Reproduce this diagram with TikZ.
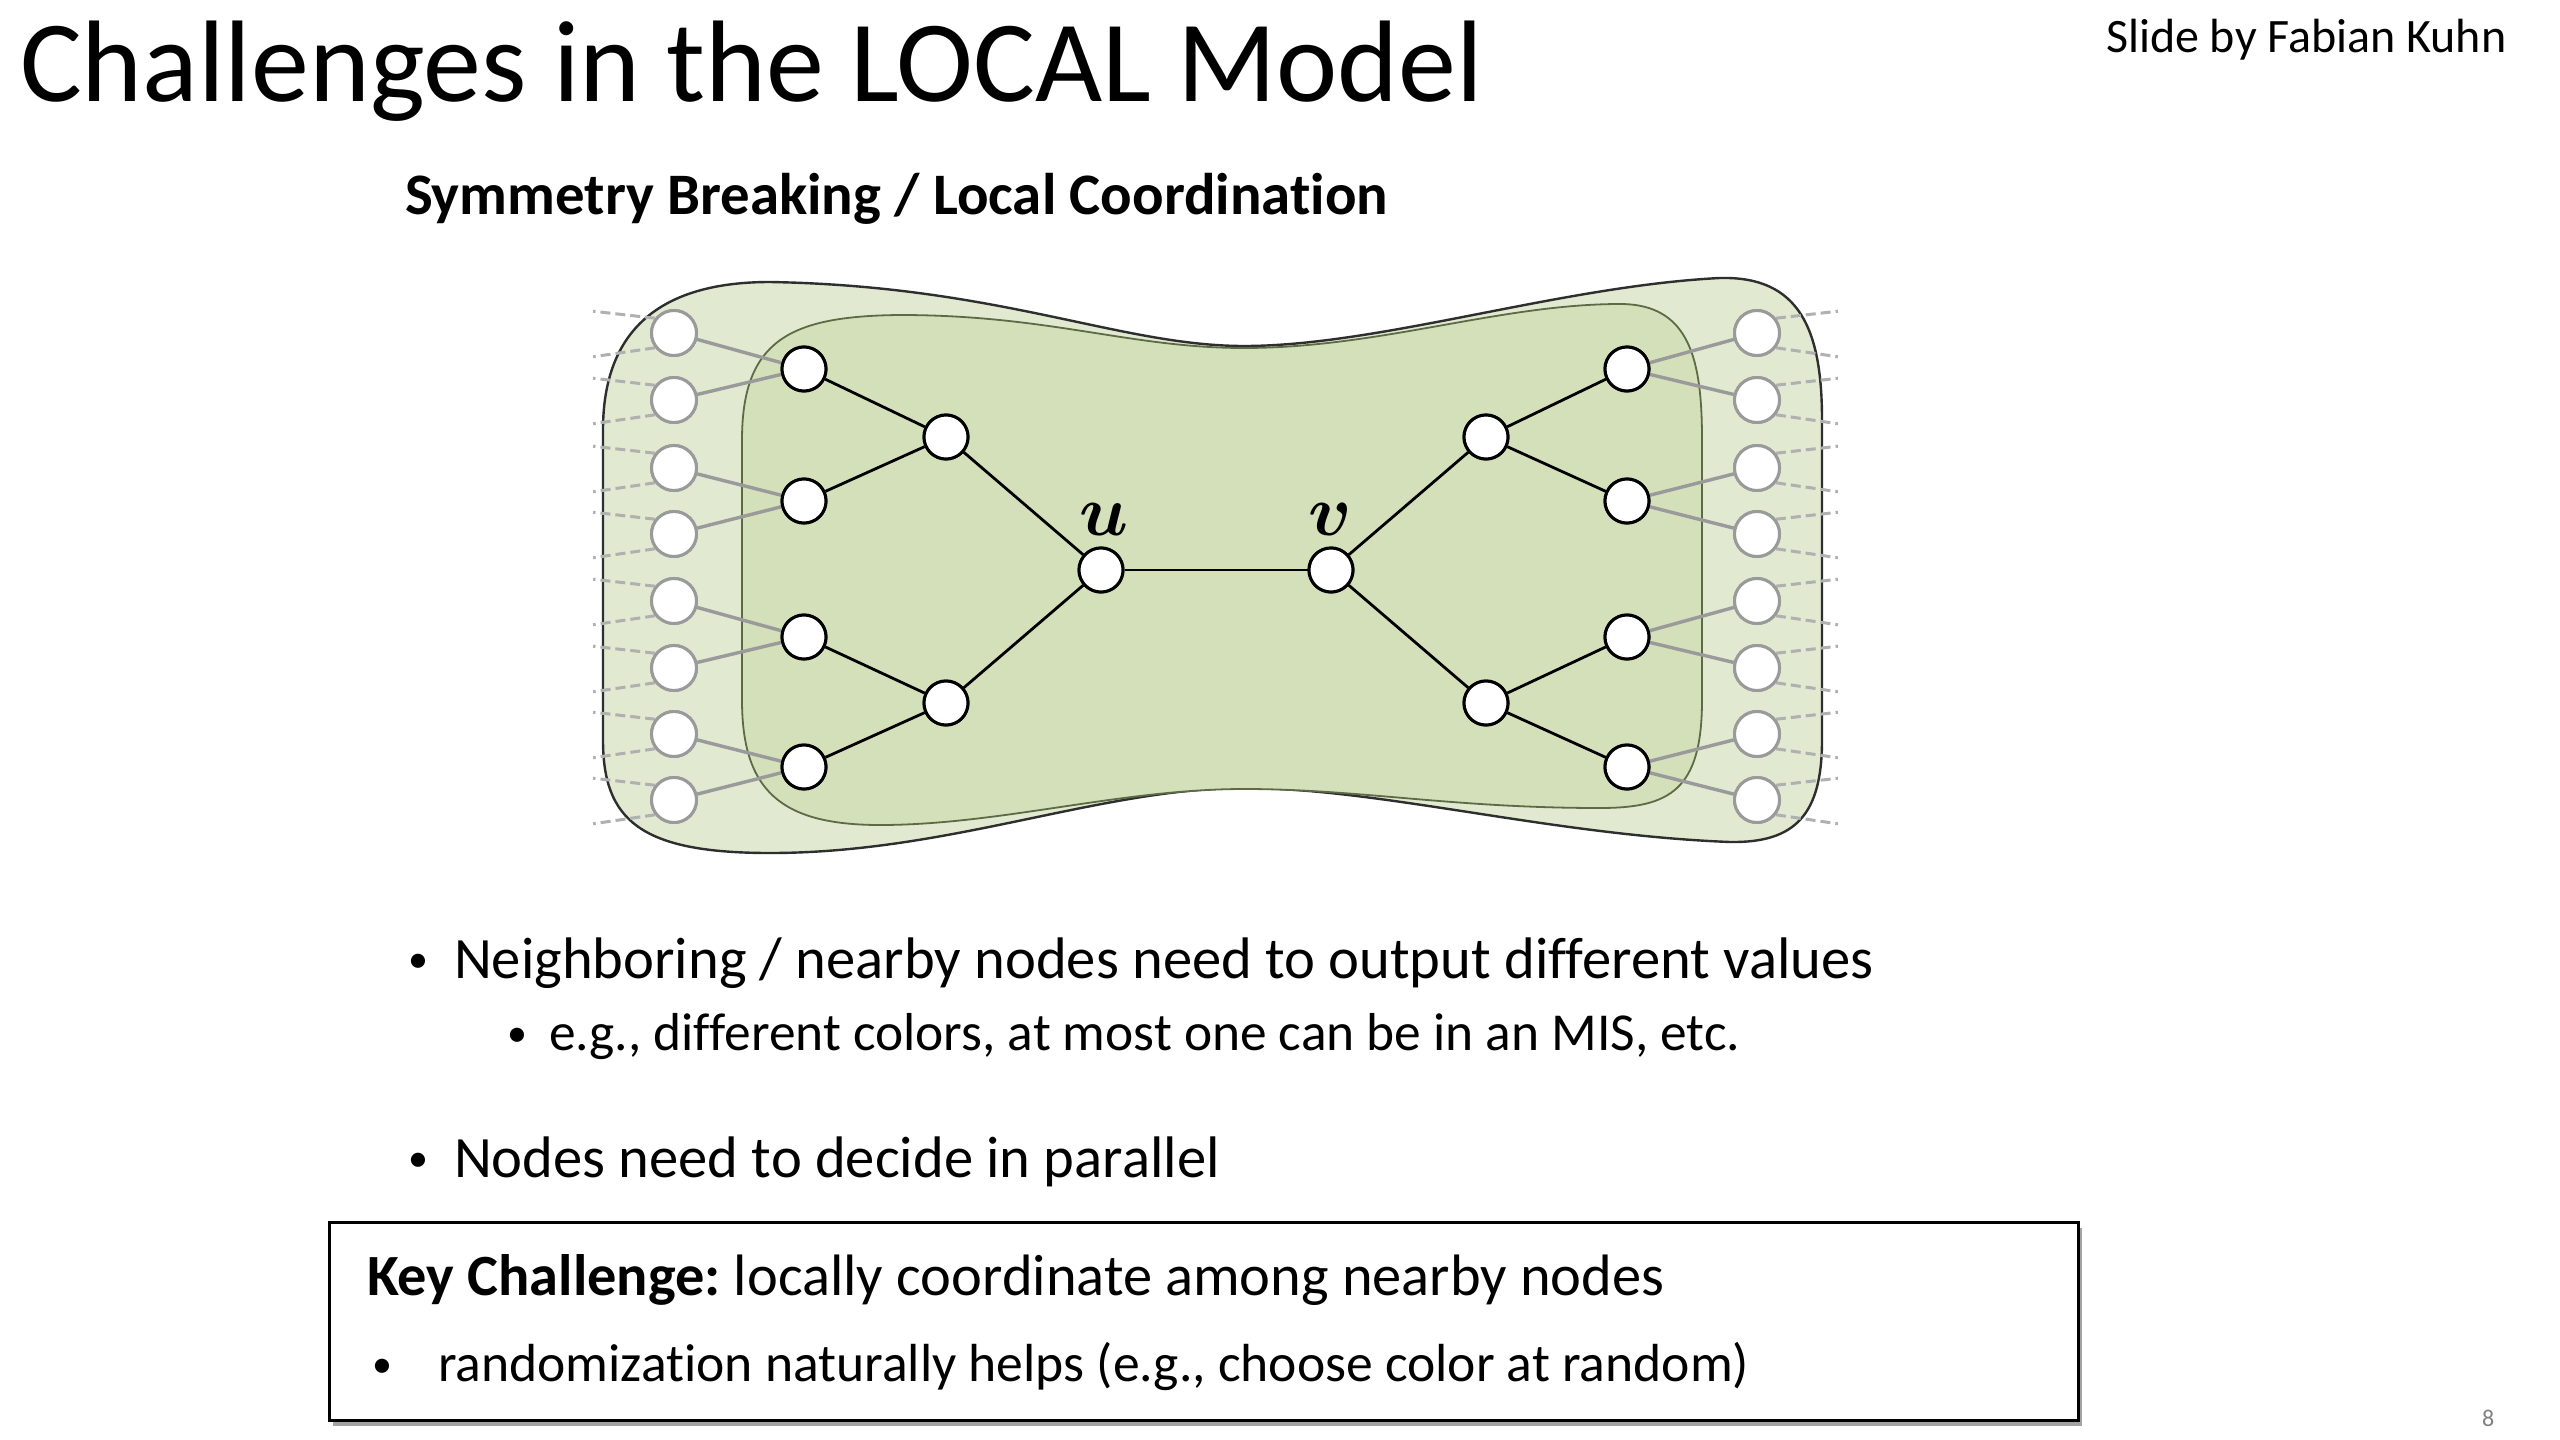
\RequirePackage{fix-cm}
\documentclass[tikz,border=0pt]{standalone}
\usepackage{fontspec}
\setmainfont[Ligatures=NoCommon]{Carlito}
\usepackage{bm}
\usetikzlibrary{shadows}
\frenchspacing
\definecolor{outerg}{HTML}{E1E9D1}
\definecolor{innerg}{HTML}{D3E0BA}
\definecolor{rimc}{HTML}{2E2E2E}
\definecolor{innerrim}{HTML}{5C6B45}
\definecolor{edgegray}{HTML}{9A9A9A}
\begin{document}
\begin{tikzpicture}[x=0.5pt,y=-0.5pt,
  bnode/.style={circle,draw=black,fill=white,line width=1.5pt,minimum size=22pt,inner sep=0pt},
  gnode/.style={circle,draw=edgegray,fill=white,line width=1.5pt,minimum size=22.5pt,inner sep=0pt},
  bedge/.style={draw=black,line width=1.4pt},
  gedge/.style={draw=edgegray,line width=1.7pt},
  dedge/.style={draw=gray!62,line width=1.5pt,dash pattern=on 5pt off 2.5pt},
  txt/.style={anchor=base west,inner sep=0pt,outer sep=0pt},
  bul/.style={anchor=base west,inner sep=0pt,outer sep=0pt,font=\fontsize{20pt}{24pt}\selectfont},
  lbl/.style={anchor=base,inner sep=0pt,font=\fontsize{36pt}{38pt}\selectfont}]
\useasboundingbox (0,0) rectangle (2560,1440);
\fill[white] (0,0) rectangle (2560,1440);

% texts
\node[txt,font=\fontsize{58pt}{62pt}\selectfont] (title) at (20,101) {Challenges in the LOCAL Model};
\node[txt,font=\fontsize{24pt}{28pt}\selectfont] (credit) at (2106,53) {Slide by Fabian Kuhn};
\node[txt,font=\fontsize{29.4pt}{33pt}\selectfont\bfseries] (sub) at (405,214) {Symmetry Breaking / Local Coordination};

% blobs
\path[fill=outerg,draw=rimc,line width=1.2pt]
  (603,600) -- (603,430) .. controls (603,330) and (660,282) .. (770,282)
  .. controls (1000,286) and (1120,346) .. (1244,346)
  .. controls (1380,346) and (1560,286) .. (1720,278)
  .. controls (1800,276) and (1822,330) .. (1822,420)
  -- (1822,740) .. controls (1822,815) and (1795,843) .. (1730,842)
  .. controls (1550,835) and (1380,788) .. (1244,788)
  .. controls (1100,788) and (950,853) .. (770,853)
  .. controls (640,853) and (603,820) .. (603,740) -- cycle;
\path[fill=innerg,draw=innerrim,line width=0.9pt]
  (742,600) -- (742,440) .. controls (742,340) and (790,316) .. (900,315)
  .. controls (1050,315) and (1130,348) .. (1244,348)
  .. controls (1380,348) and (1500,304) .. (1620,304)
  .. controls (1690,304) and (1702,360) .. (1702,440)
  -- (1702,700) .. controls (1702,790) and (1670,808) .. (1600,808)
  .. controls (1450,808) and (1360,789) .. (1244,789)
  .. controls (1120,789) and (1000,825) .. (880,825)
  .. controls (780,825) and (742,790) .. (742,700) -- cycle;

% nodes
\foreach \i/\y in {1/333,2/400,3/468,4/534,5/601,6/668,7/734,8/800}{
  \node[gnode] (L\i) at (674,\y) {};
  \node[gnode] (R\i) at (1757,\y) {};
}
\foreach \i/\y in {1/369,2/501,3/637,4/767}{
  \node[bnode] (LA\i) at (804,\y) {};
  \node[bnode] (RA\i) at (1627,\y) {};
}
\node[bnode] (LP1) at (946,437) {};
\node[bnode] (LP2) at (946,703) {};
\node[bnode] (RP1) at (1486,437) {};
\node[bnode] (RP2) at (1486,703) {};
\node[bnode] (u) at (1101,570) {};
\node[bnode] (v) at (1331,570) {};
\node[lbl] (ulbl) at (1104,535) {$\bm{u}$};
\node[lbl] (vlbl) at (1330,535) {$\bm{v}$};

% dashed stubs
\foreach \i in {1,...,8}{
  \draw[dedge] (L\i.142) -- ++(-62,-7);
  \draw[dedge] (L\i.218) -- ++(-62,9);
  \draw[dedge] (R\i.38) -- ++(62,-7);
  \draw[dedge] (R\i.-38) -- ++(62,9);
}

% gray edges
\foreach \a/\b/\c in {1/1/2,2/3/4,3/5/6,4/7/8}{
  \draw[gedge] (LA\a) -- (L\b);
  \draw[gedge] (LA\a) -- (L\c);
  \draw[gedge] (RA\a) -- (R\b);
  \draw[gedge] (RA\a) -- (R\c);
}
% black edges
\draw[bedge] (LA1) -- (LP1);
\draw[bedge] (LA2) -- (LP1);
\draw[bedge] (LA3) -- (LP2);
\draw[bedge] (LA4) -- (LP2);
\draw[bedge] (LP1) -- (u);
\draw[bedge] (LP2) -- (u);
\draw[bedge] (u) -- (v);
\draw[bedge] (v) -- (RP1);
\draw[bedge] (v) -- (RP2);
\draw[bedge] (RP1) -- (RA1);
\draw[bedge] (RP1) -- (RA2);
\draw[bedge] (RP2) -- (RA3);
\draw[bedge] (RP2) -- (RA4);
% redraw nodes on top
\foreach \i/\y in {1/333,2/400,3/468,4/534,5/601,6/668,7/734,8/800}{
  \node[gnode] at (674,\y) {};
  \node[gnode] at (1757,\y) {};
}
\foreach \i/\y in {1/369,2/501,3/637,4/767}{
  \node[bnode] at (804,\y) {};
  \node[bnode] at (1627,\y) {};
}
\node[bnode] at (946,437) {};
\node[bnode] at (946,703) {};
\node[bnode] at (1486,437) {};
\node[bnode] at (1486,703) {};
\node[bnode] at (1101,570) {};
\node[bnode] at (1331,570) {};

% bullets
\node[bul] (b1d) at (408,972) {•};
\node[txt,font=\fontsize{29.3pt}{33pt}\selectfont] (b1) at (454,978) {Neighboring / nearby nodes need to output different values};
\node[bul] (b2d) at (507,1046) {•};
\node[txt,font=\fontsize{26.7pt}{30pt}\selectfont] (b2) at (549,1050) {e.g., different colors, at most one can be in an MIS, etc.};
\node[bul] (b3d) at (408,1171) {•};
\node[txt,font=\fontsize{29.3pt}{33pt}\selectfont] (b3) at (454,1177) {Nodes need to decide in parallel};

% key box
\node[draw=black,line width=1.3pt,fill=white,inner sep=0pt,minimum width=874.5pt,minimum height=99pt,anchor=north west,
  drop shadow={shadow xshift=2pt,shadow yshift=-3pt,fill=gray!80,opacity=0.9}] (box) at (328,1221) {};
\node[txt,font=\fontsize{29.2pt}{33pt}\selectfont] (k1) at (367,1295) {\textbf{Key Challenge:} locally coordinate among nearby nodes};
\node[bul] (k2d) at (372,1377) {•};
\node[txt,font=\fontsize{26.8pt}{30pt}\selectfont] (k2) at (438,1381) {randomization naturally helps (e.g., choose color at random)};

\node[txt,font=\fontsize{12pt}{14pt}\selectfont,text=gray] (pg) at (2482,1426) {8};
\end{tikzpicture}
\end{document}
